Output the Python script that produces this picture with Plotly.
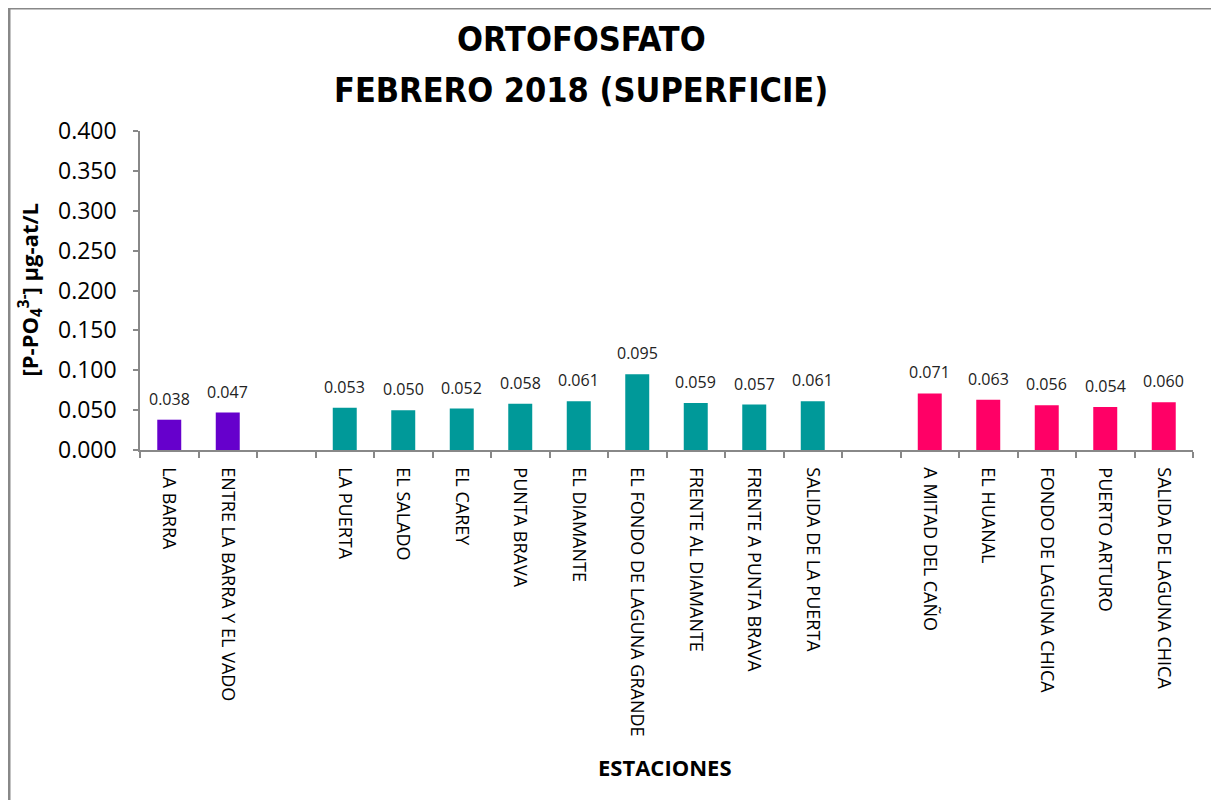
import plotly.graph_objects as go

categories = ["LA BARRA", "ENTRE LA BARRA Y EL VADO", " ",
              "LA PUERTA", "EL SALADO", "EL CAREY", "PUNTA BRAVA", "EL DIAMANTE",
              "EL FONDO DE LAGUNA GRANDE", "FRENTE AL DIAMANTE", "FRENTE A PUNTA BRAVA",
              "SALIDA DE LA PUERTA", "  ",
              "A MITAD DEL CAÑO", "EL HUANAL", "FONDO DE LAGUNA CHICA", "PUERTO ARTURO",
              "SALIDA DE LAGUNA CHICA"]
values = [0.038, 0.047, None,
          0.053, 0.050, 0.052, 0.058, 0.061, 0.095, 0.059, 0.057, 0.061, None,
          0.071, 0.063, 0.056, 0.054, 0.060]
group = ["a", "a", None] + ["b"] * 9 + [None] + ["c"] * 5
group_colors = {"a": "#6600CC", "b": "#009999", "c": "#FF0066"}

colors = [group_colors[g] if g else "rgba(0,0,0,0)" for g in group]

# plot area in figure pixels (page body adds an 8px offset)
L, R, T, B = 132, 1185, 123, 442
PW, PH = R - L, B - T

def px(x):
    return (x - L) / PW

def py(y):
    return (B - y) / PH

fig = go.Figure()
fig.add_trace(go.Bar(
    x=categories, y=values, marker=dict(color=colors, line=dict(width=0)),
    width=0.41, showlegend=False,
))

label_annotations = [
    dict(x=c, y=v, xref="x", yref="y", text=f"{v:.3f}", showarrow=False,
         xanchor="center", yanchor="bottom", yshift=8,
         font=dict(family="Open Sans", size=16, color="#222"))
    for c, v in zip(categories, values) if v is not None
]

axis_gray = "#888888"
title_font = dict(family="Liberation Sans Narrow, DejaVu Sans Condensed", size=34,
                  color="black", weight="bold")
fig.update_layout(
    width=1219, height=800,
    margin=dict(l=L, r=1219 - R, t=T, b=800 - B, autoexpand=False),
    paper_bgcolor="white", plot_bgcolor="white",
    bargap=0.59,
    xaxis=dict(type="category", categoryorder="array", categoryarray=categories,
               tickson="boundaries", ticks="outside", ticklen=6, tickcolor=axis_gray, tickwidth=1.5,
               showline=True, linecolor=axis_gray, linewidth=1.5, showgrid=False,
               ticklabelstandoff=12,
               tickangle=90, tickfont=dict(family="Open Sans", size=18, color="black")),
    yaxis=dict(range=[0, 0.4], dtick=0.05, tickformat=".3f",
               ticks="outside", ticklen=5, tickcolor=axis_gray, tickwidth=1.5,
               showline=True, linecolor=axis_gray, linewidth=1.5, showgrid=False, zeroline=False,
               ticklabelstandoff=12,
               tickfont=dict(family="Open Sans", size=23, color="black")),
    annotations=label_annotations + [
        dict(text="ORTOFOSFATO", xref="paper", yref="paper", x=px(573), y=py(31),
             xanchor="center", yanchor="middle", showarrow=False, font=title_font),
        dict(text="FEBRERO 2018 (SUPERFICIE)", xref="paper", yref="paper", x=px(573), y=py(82),
             xanchor="center", yanchor="middle", showarrow=False, font=title_font),
        dict(text="<b>[P-PO<sub>4</sub><sup>3-</sup>] µg-at/L</b>", xref="paper", yref="paper",
             x=px(22), y=0.5, xanchor="center", yanchor="middle", textangle=-90,
             showarrow=False, font=dict(family="Open Sans", size=22, color="black")),
        dict(text="<b>ESTACIONES</b>", xref="paper", yref="paper",
             x=px(657), y=py(759), xanchor="center", yanchor="middle",
             showarrow=False, font=dict(family="Open Sans", size=22, color="black")),
    ],
    shapes=[dict(type="rect", xref="paper", yref="paper",
                 x0=px(1), x1=px(1240), y0=py(820), y1=py(0),
                 line=dict(color="#888888", width=3), fillcolor="rgba(0,0,0,0)", layer="below")],
)

fig.write_html("out.html")
